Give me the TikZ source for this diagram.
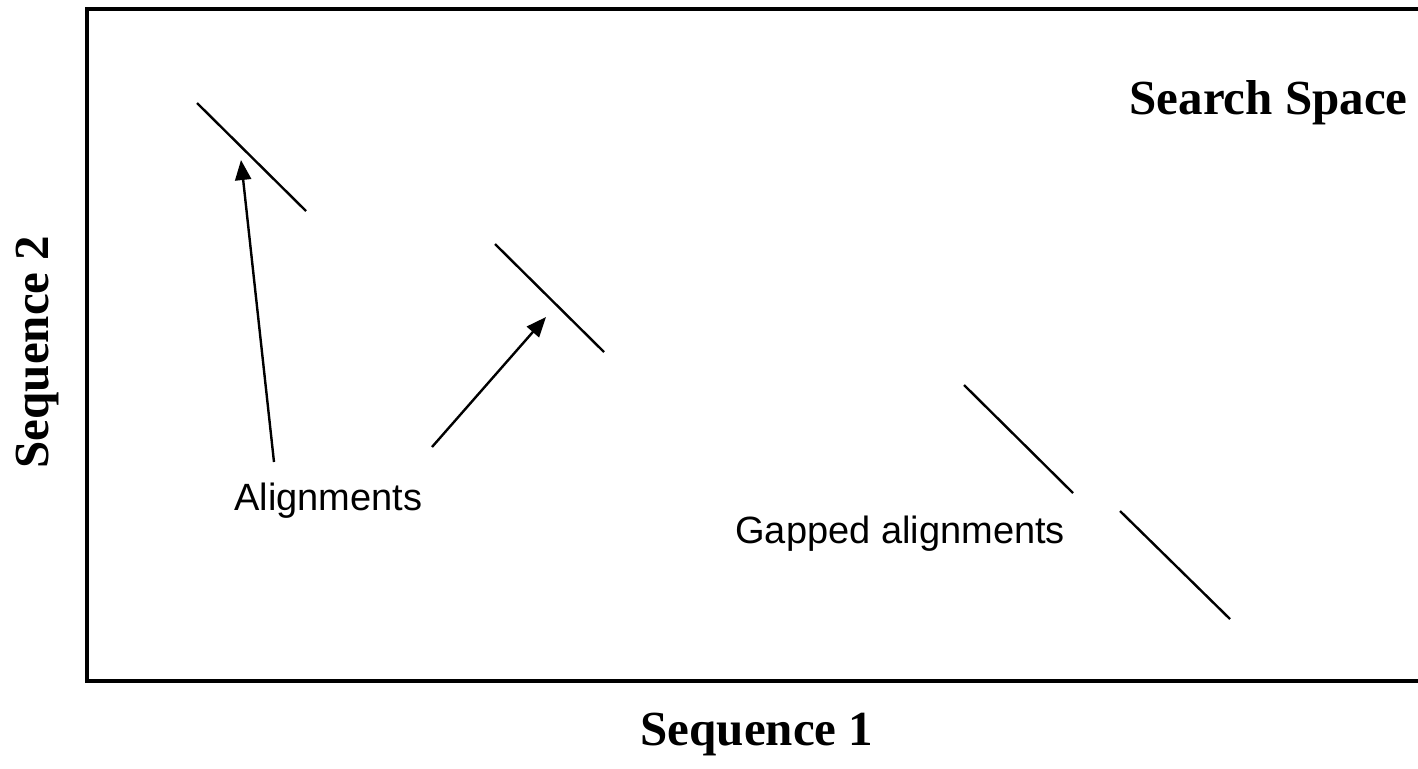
\documentclass[tikz,border=0pt]{standalone}
\usepackage{fontspec}
\setmainfont{Liberation Serif}
\newfontfamily\arialfont{Liberation Sans}
\usetikzlibrary{arrows.meta}
\begin{document}
\begin{tikzpicture}[x=0.5pt,y=-0.5pt,
  frame/.style={line width=1.6pt},
  seg/.style={line width=1.2pt},
  pointer/.style={line width=1.2pt,-{Triangle[length=10pt,width=8pt]}},
  axislabel/.style={font=\bfseries\fontsize{24.5}{28}\selectfont,inner sep=0pt},
  note/.style={font=\arialfont\fontsize{19}{22}\selectfont,inner sep=0pt}]
\useasboundingbox (0,0) rectangle (1418,768);
\fill[white] (0,0) rectangle (1418,768);
% frame
\draw[frame] (1430,9) -- (87,9) -- (87,681) -- (1430,681);
% labels
\node[axislabel,anchor=base east] (ss) at (1408,114) {Search Space};
\node[axislabel,anchor=base] (s1) at (757,745) {Sequence 1};
\node[axislabel,anchor=base,rotate=90] (s2) at (48,352) {Sequence 2};
\node[note,anchor=base west] (al) at (234,510) {Alignments};
\node[note,anchor=base west] (ga) at (735,543) {Gapped alignments};
% alignment segments
\coordinate (a1s) at (197,103); \coordinate (a1e) at (306,211);
\coordinate (a2s) at (495,244); \coordinate (a2e) at (604,352);
\coordinate (g1s) at (964,385); \coordinate (g1e) at (1073,493);
\coordinate (g2s) at (1120,511); \coordinate (g2e) at (1230,619);
\draw[seg] (a1s) -- (a1e);
\draw[seg] (a2s) -- (a2e);
\draw[seg] (g1s) -- (g1e);
\draw[seg] (g2s) -- (g2e);
% pointers
\coordinate (p1t) at (274,462); \coordinate (p1h) at (241,160);
\coordinate (p2t) at (432,447); \coordinate (p2h) at (546,317);
\draw[pointer] (p1t) -- (p1h);
\draw[pointer] (p2t) -- (p2h);
\end{tikzpicture}
\end{document}
